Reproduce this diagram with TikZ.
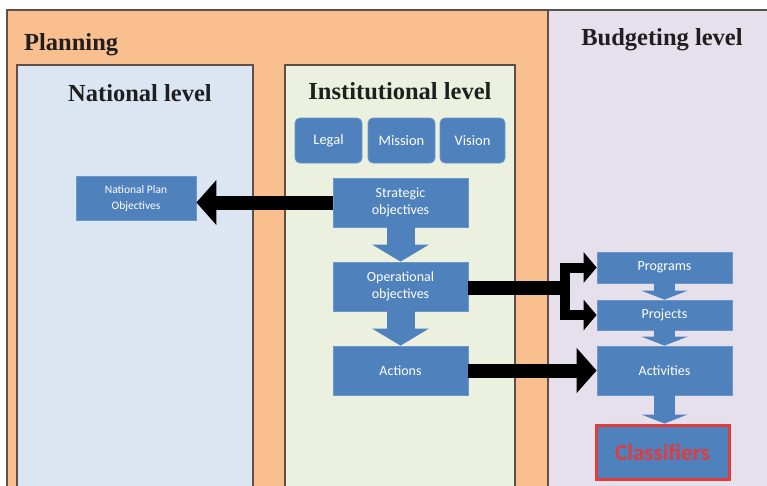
\documentclass[tikz,border=0pt]{standalone}
\usepackage{fontspec}
\setmainfont{Liberation Serif}
\newfontfamily\boxfont{Carlito}
\usetikzlibrary{arrows.meta}
\definecolor{orangebg}{HTML}{FABF8F}
\definecolor{lavbg}{HTML}{E5E0EC}
\definecolor{natbg}{HTML}{DCE6F2}
\definecolor{instbg}{HTML}{EBF1DE}
\definecolor{boxblue}{HTML}{4F81BD}
\definecolor{boxedge}{HTML}{6A97CC}
\definecolor{framec}{HTML}{5E5048}
\definecolor{clsred}{HTML}{E23B3B}
\tikzset{
  region/.style={draw=framec, line width=1.3pt},
  title/.style={font=\fontsize{24.5}{27}\selectfont\bfseries, text=black!88, inner sep=0pt},
  bluebox/.style={draw=boxedge, line width=0.8pt, fill=boxblue, text=white, align=center,
    font=\boxfont\fontsize{14}{17.5}\selectfont, inner sep=1pt},
  topbox/.style={bluebox, rounded corners=5pt, minimum height=45pt, font=\boxfont\fontsize{14.5}{16}\selectfont},
  bigarrow/.style={draw=boxblue, line width=28pt, -{Triangle[width=56pt,length=17pt]}},
  smallarrow/.style={draw=boxblue, line width=21pt, -{Triangle[width=46pt,length=9pt]}},
  blkline/.style={draw=black, line width=14pt},
  blkarrow/.style={draw=black, line width=14pt, -{Triangle[width=44pt,length=20pt]}},
  blkarrowsm/.style={draw=black, line width=10pt, line join=miter, -{Triangle[width=30pt,length=13pt]}},
}
\begin{document}
\begin{tikzpicture}[x=1pt,y=-1pt]
\useasboundingbox (0,0) rectangle (767,485);
\fill[white] (0,0) rectangle (767,485);
% regions
\fill[orangebg] (7,10) rectangle (548,495);
\fill[lavbg] (548,10) rectangle (775,495);
\draw[region] (7,495) -- (7,10) -- (775,10);
\draw[region] (548,10) -- (548,495);
\draw[region, fill=natbg] (17,495) -- (17,65) -- (253,65) -- (253,495);
\draw[region, fill=instbg] (285,495) -- (285,65) -- (515,65) -- (515,495);
% titles
\node[title, anchor=west] (tplan) at (24,45) {Planning};
\node[title] (tbud) at (662,40) {Budgeting level};
\node[title] (tnat) at (140,93) {National level};
\node[title] (tinst) at (400,91) {Institutional level};
% boxes
\node[topbox, minimum width=67pt] (legal) at (328.5,140.5) {Legal};
\node[topbox, minimum width=67pt] (mission) at (401.5,140.5) {Mission};
\node[topbox, minimum width=65pt] (vision) at (472.5,140.5) {Vision};
\node[bluebox, minimum width=120pt, minimum height=44pt, font=\boxfont\fontsize{11.5}{16}\selectfont] (nat) at (136,198) {National Plan\\Objectives};
\node[bluebox, minimum width=135pt, minimum height=49pt] (strat) at (400.5,202.5) {Strategic\\objectives};
\node[bluebox, minimum width=135pt, minimum height=49pt] (op) at (400.5,286.5) {Operational\\objectives};
\node[bluebox, minimum width=135pt, minimum height=49pt] (act) at (400.5,370.5) {Actions};
\node[bluebox, minimum width=135pt, minimum height=31pt] (prog) at (664.5,267.5) {Programs};
\node[bluebox, minimum width=135pt, minimum height=30pt] (proj) at (664.5,315) {Projects};
\node[bluebox, minimum width=135pt, minimum height=49pt] (activ) at (664.5,370.5) {Activities};
\node[bluebox, draw=clsred, line width=3pt, minimum width=133pt, minimum height=54pt, text=clsred,
  font=\boxfont\fontsize{23}{26}\selectfont\bfseries] (cls) at (662.5,452) {Classifiers};
% blue block arrows
\draw[bigarrow] (strat.south) -- (op.north);
\draw[bigarrow] (op.south) -- (act.north);
\draw[smallarrow] (prog.south) -- (proj.north);
\draw[smallarrow] (proj.south) -- (activ.north);
\draw[smallarrow] (activ.south) -- (activ.south |- cls.north);
% black arrows
\draw[blkarrow] (strat.west) -- (strat.west -| nat.east);
\coordinate (fork) at (565,287.5);
\draw[blkline] (op.east |- fork) -- ([xshift=5pt]fork);
\draw[blkarrowsm] (fork) |- (prog.west);
\draw[blkarrowsm] (fork) |- (proj.west);
\draw[blkarrow] (act.east) -- (activ.west);
\end{tikzpicture}
\end{document}
